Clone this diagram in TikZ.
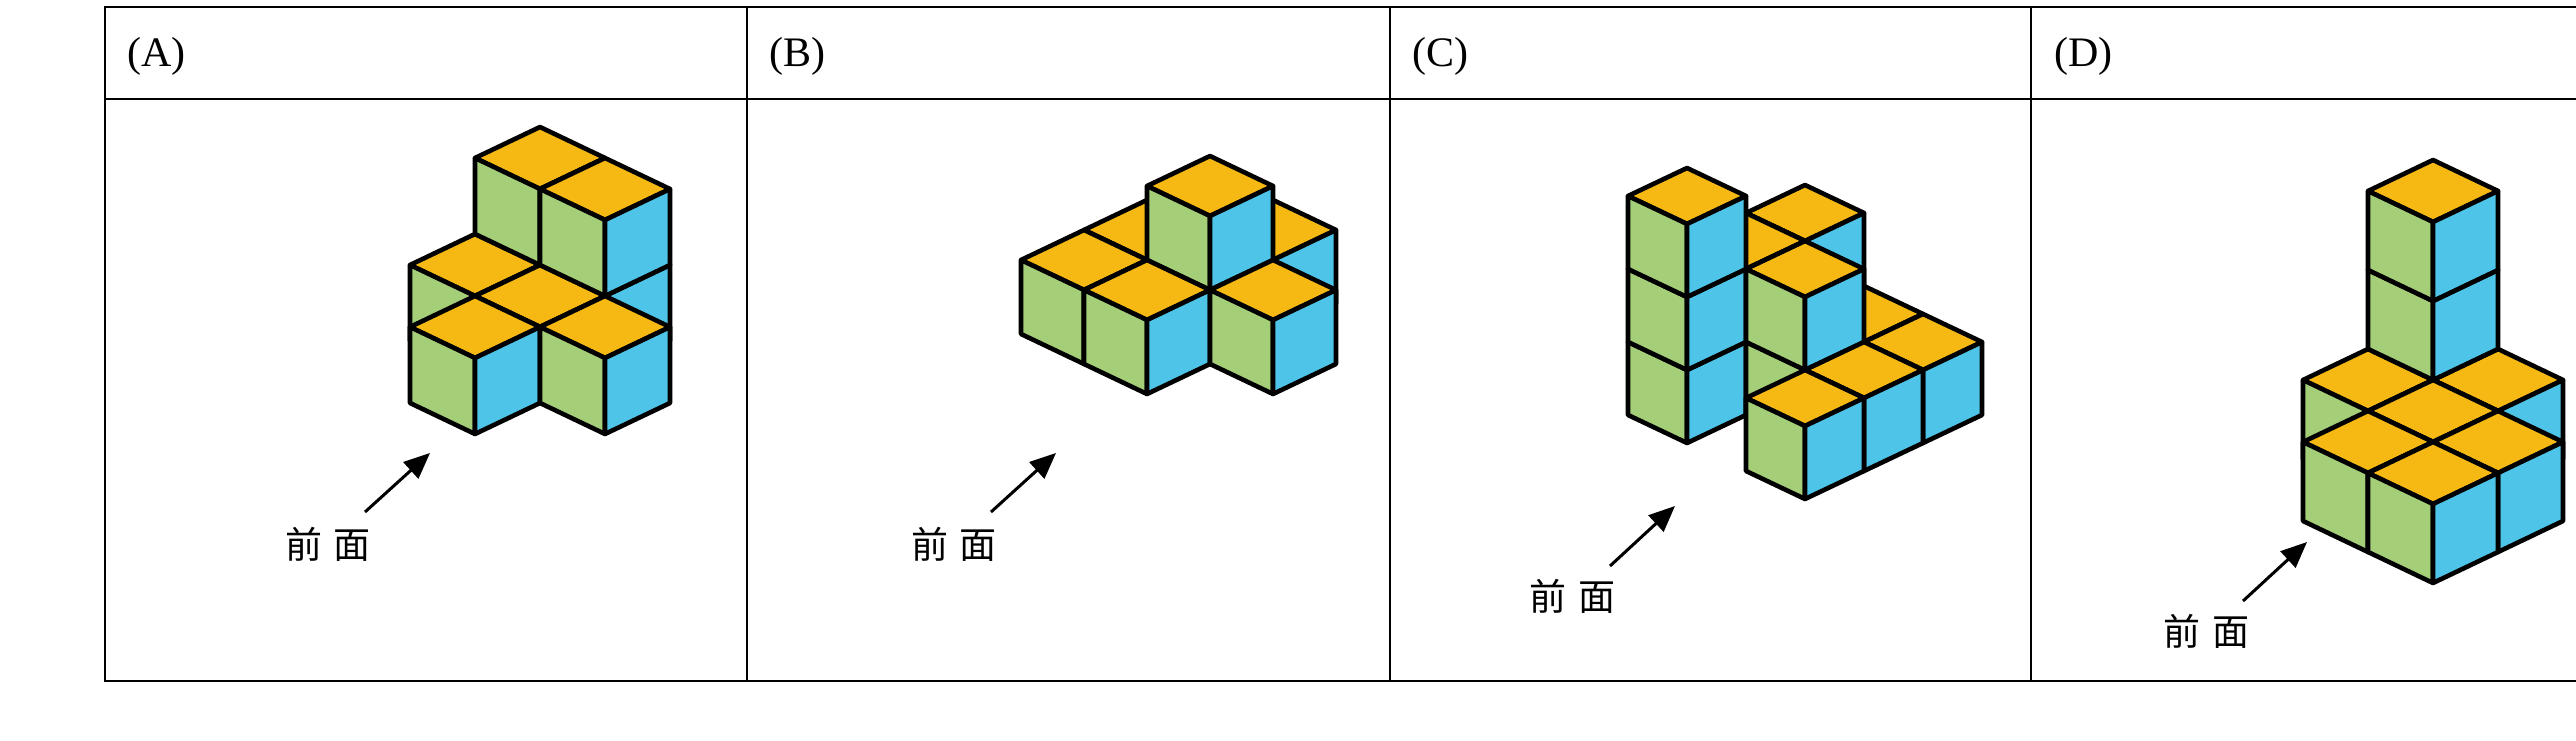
\documentclass[tikz,border=0pt]{standalone}
\usepackage{fontspec}
\setmainfont{Liberation Serif}
\newfontfamily\cjk{Noto Sans CJK SC}
\usetikzlibrary{arrows.meta}
\definecolor{ctop}{HTML}{F6B913}
\definecolor{cleft}{HTML}{A5CE78}
\definecolor{cright}{HTML}{4EC5E8}
\tikzset{
  face/.style={draw=black,line width=4.6pt,line join=round},
  grid/.style={draw=black,line width=1.8pt},
  hdr/.style={anchor=west,font=\fontsize{42}{42}\selectfont,inner sep=0pt},
  front/.style={font=\cjk\fontsize{37}{37}\selectfont,inner sep=0pt},
  parr/.style={line width=3pt,-{Triangle[length=26pt,width=22pt]}}
}
\newcommand\cub[3]{%
  \filldraw[face,fill=ctop] (#1,#2,#3+1) -- (#1+1,#2,#3+1) -- (#1+1,#2+1,#3+1) -- (#1,#2+1,#3+1) -- cycle;
  \filldraw[face,fill=cleft] (#1,#2,#3) -- (#1,#2+1,#3) -- (#1,#2+1,#3+1) -- (#1,#2,#3+1) -- cycle;
  \filldraw[face,fill=cright] (#1,#2,#3) -- (#1+1,#2,#3) -- (#1+1,#2,#3+1) -- (#1,#2,#3+1) -- cycle;
}
\begin{document}
\begin{tikzpicture}[x=1pt,y=1pt]
\useasboundingbox (0,0) rectangle (2576,740);
\begin{scope}
\clip (0,0) rectangle (2576,740);
\draw[grid] (105,59) rectangle (2680,733);
\draw[grid] (105,641) -- (2680,641);
\foreach \xx in {747,1390,2031} \draw[grid] (\xx,59) -- (\xx,733);
\end{scope}
\node[hdr] (hA) at (127,684) {(A)};
\node[hdr] (hB) at (769,684) {(B)};
\node[hdr] (hC) at (1412,684) {(C)};
\node[hdr] (hD) at (2054,684) {(D)};
% A
\begin{scope}[shift={(475pt,306pt)},x={(65pt,31pt)},y={(-65pt,31pt)},z={(0pt,76pt)}]
\cub{2}{1}{0}\cub{1}{1}{0}\cub{2}{0}{0}\cub{2}{1}{1}\cub{1}{0}{0}\cub{2}{0}{1}\cub{0}{0}{0}\cub{1}{-1}{0}
\end{scope}
% B
\begin{scope}[shift={(1147pt,346pt)},x={(63pt,30pt)},y={(-63pt,30pt)},z={(0pt,74pt)}]
\cub{1}{1}{0}\cub{2}{0}{0}\cub{0}{1}{0}\cub{1}{0}{0}\cub{1}{0}{1}\cub{0}{0}{0}\cub{1}{-1}{0}
\end{scope}
% C
\begin{scope}[shift={(1687pt,297pt)},x={(59pt,28pt)},y={(-59pt,28pt)},z={(0pt,73pt)}]
\cub{2}{0}{0}\cub{1}{0}{0}\cub{2}{-1}{0}\cub{2}{0}{1}\cub{0}{0}{0}\cub{1}{-1}{0}\cub{2}{-2}{0}
\cub{1}{0}{1}\cub{0}{0}{1}\cub{1}{-1}{1}\cub{1}{-2}{0}\cub{0}{-2}{0}\cub{0}{0}{2}
\end{scope}
% D
\begin{scope}[shift={(2433pt,157pt)},x={(65pt,31pt)},y={(-65pt,31pt)},z={(0pt,79pt)}]
\cub{2}{2}{0}\cub{1}{2}{0}\cub{2}{1}{0}\cub{2}{2}{1}\cub{1}{1}{0}\cub{2}{2}{2}\cub{0}{1}{0}\cub{1}{0}{0}\cub{0}{0}{0}
\end{scope}
% front labels and arrows
\node[front] (fA) at (328,196) {前\hspace{12pt}面};
\coordinate (tA) at (430,287);
\draw[parr] (365,228) -- (tA);
\node[front] (fB) at (954,196) {前\hspace{12pt}面};
\coordinate (tB) at (1056,287);
\draw[parr] (991,228) -- (tB);
\node[front] (fC) at (1572,144) {前\hspace{12pt}面};
\coordinate (tC) at (1675,234);
\draw[parr] (1610,174) -- (tC);
\node[front] (fD) at (2206,109) {前\hspace{12pt}面};
\coordinate (tD) at (2307,198);
\draw[parr] (2243,139) -- (tD);
\end{tikzpicture}
\end{document}
